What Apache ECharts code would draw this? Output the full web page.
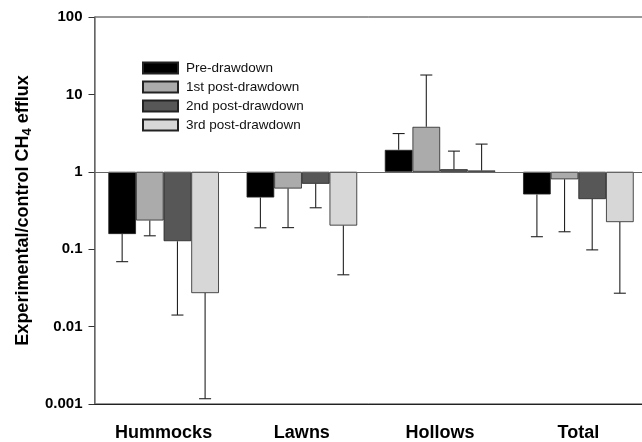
<!DOCTYPE html>
<html>
<head>
<meta charset="utf-8">
<script src="https://cdn.jsdelivr.net/npm/echarts@6/dist/echarts.min.js"></script>
<style>
html,body{margin:0;padding:0;background:#fff;}
#chart{width:642px;height:442px;}
</style>
</head>
<body>
<div id="chart"></div>
<script>
const categories = ['Hummocks', 'Lawns', 'Hollows', 'Total'];
const seriesNames = ['Pre-drawdown', '1st post-drawdown', '2nd post-drawdown', '3rd post-drawdown'];
const preDrawdown   = [0.157, 0.466, 1.92, 0.51];
const preError      = [0.069, 0.189, 3.12, 0.145];
const post1         = [0.235, 0.608, 3.81, 0.80];
const post1Error    = [0.149, 0.19, 17.8, 0.168];
const post2         = [0.127, 0.70, 1.08, 0.444];
const post2Error    = [0.0141, 0.343, 1.85, 0.098];
const post3         = [0.0271, 0.202, 1.04, 0.224];
const post3Error    = [0.00117, 0.0467, 2.28, 0.027];
const yTickLabels = ['0.001', '0.01', '0.1', '1', '10', '100'];

const values = [preDrawdown, post1, post2, post3];
const errors = [preError, post1Error, post2Error, post3Error];
const colors = ['#000000', '#ababab', '#575757', '#d7d7d7'];
const FONT = 'Liberation Sans';
const BAR_RATIO = 0.2;

const series = [];
values.forEach((vals, s) => {
  const bar = {
    name: seriesNames[s],
    type: 'bar',
    barWidth: (BAR_RATIO * 100) + '%',
    barGap: '0%',
    itemStyle: { color: colors[s], borderColor: '#222', borderWidth: 0.8 },
    data: vals
  };
  if (s === 0) {
    bar.markLine = {
      silent: true,
      symbol: 'none',
      label: { show: false },
      lineStyle: { color: '#666', type: 'solid', width: 1.2 },
      data: [{ yAxis: 1 }]
    };
  }
  series.push(bar);
});
errors.forEach((errs, s) => {
  series.push({
    name: 'err' + s,
    type: 'custom',
    z: 5,
    data: errs.map((e, c) => [c, values[s][c], e]),
    renderItem: function (params, api) {
      const cat = api.value(0), v = api.value(1), e = api.value(2);
      const band = api.size([1, 0])[0];
      const p1 = api.coord([cat, v]);
      const p2 = api.coord([cat, e]);
      const xc = p1[0] + (s - 1.5) * band * BAR_RATIO;
      const cap = 6;
      const style = { stroke: '#222', lineWidth: 1.1 };
      return {
        type: 'group',
        children: [
          { type: 'line', shape: { x1: xc, y1: p1[1], x2: xc, y2: p2[1] }, style: style },
          { type: 'line', shape: { x1: xc - cap, y1: p2[1], x2: xc + cap, y2: p2[1] }, style: style }
        ]
      };
    }
  });
});

const chart = echarts.init(document.getElementById('chart'));
chart.setOption({
  animation: false,
  backgroundColor: '#fff',
  textStyle: { fontFamily: FONT },
  grid: {
    left: 94.5, width: 553, top: 17, bottom: 38,
    containLabel: false, outerBoundsMode: 'none',
    show: true, borderColor: '#333', borderWidth: 1
  },
  legend: {
    data: seriesNames,
    orient: 'vertical',
    left: 137,
    top: 56,
    icon: 'rect',
    itemWidth: 35,
    itemHeight: 11,
    itemGap: 5,
    textStyle: { fontSize: 13.5, color: '#111', fontFamily: FONT, padding: [0, 0, 0, 3] }
  },
  xAxis: {
    type: 'category',
    data: categories,
    axisLine: { onZero: false, lineStyle: { color: '#222', width: 1.2 } },
    axisTick: { alignWithLabel: true, length: 4, lineStyle: { color: '#333' } },
    axisLabel: { fontSize: 18, fontWeight: 'bold', color: '#000', margin: 20, fontFamily: FONT }
  },
  yAxis: {
    type: 'log',
    logBase: 10,
    min: 0.001,
    max: 100,
    splitLine: { show: false },
    axisLine: { show: true, lineStyle: { color: '#777', width: 1.5 } },
    axisTick: { show: true, length: 6, lineStyle: { color: '#333' } },
    axisLabel: {
      fontSize: 15, fontWeight: 'bold', color: '#000', margin: 12, fontFamily: FONT,
      formatter: function (v) { const i = Math.round(Math.log10(v)) + 3; return yTickLabels[i] || ''; }
    },
    name: '{a|Experimental/control CH}{s|4}{a| efflux}',
    nameLocation: 'middle',
    nameGap: 55,
    nameTextStyle: {
      rich: {
        a: { fontSize: 18, fontWeight: 'bold', color: '#000', fontFamily: FONT },
        s: { fontSize: 13, fontWeight: 'bold', color: '#000', fontFamily: FONT, padding: [10, 0, 0, 0] }
      }
    }
  },
  series: series
});
</script>
</body>
</html>
